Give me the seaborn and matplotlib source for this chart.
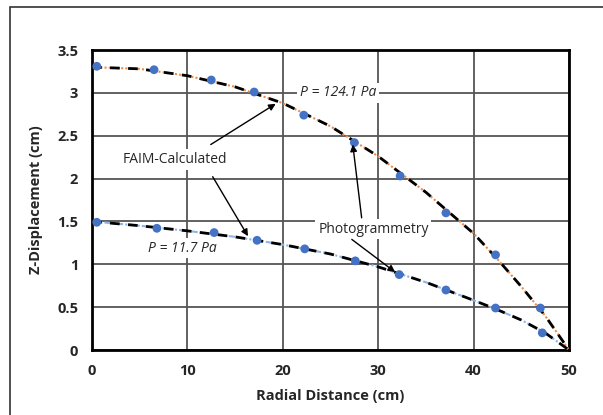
import numpy as np
import pandas as pd
import seaborn as sns
import matplotlib.pyplot as plt
from matplotlib.patches import Rectangle

# Photogrammetry points
photo_x_high = [0.5, 6.5, 12.5, 17.0, 22.2, 27.5, 32.3, 37.1, 42.3, 47.0]
photo_y_high = [3.31, 3.27, 3.15, 3.01, 2.74, 2.42, 2.03, 1.60, 1.11, 0.49]
photo_x_low = [0.5, 6.8, 12.8, 17.3, 22.3, 27.6, 32.2, 37.1, 42.3, 47.2]
photo_y_low = [1.49, 1.42, 1.37, 1.28, 1.18, 1.04, 0.88, 0.70, 0.49, 0.20]

# FAIM-calculated curves
faim_x = [0, 5, 10, 15, 20, 25, 30, 35, 40, 42.5, 45, 47.5, 50]
faim_y_high = [3.30, 3.28, 3.20, 3.07, 2.88, 2.61, 2.26, 1.84, 1.36, 1.06, 0.74, 0.40, 0.0]
faim_y_low = [1.50, 1.45, 1.39, 1.32, 1.23, 1.12, 0.97, 0.79, 0.58, 0.47, 0.35, 0.20, 0.0]

sns.set_theme(style="white")
plt.rcParams['font.family'] = ['Open Sans', 'DejaVu Sans']

fig = plt.figure(figsize=(6.03, 4.15), dpi=100)
ax = fig.add_axes([0.1526, 0.1566, 0.791, 0.7229])

# outer chart frame
fig.patches.append(Rectangle((10 / 603, -0.1), 1.2, 1 - 7 / 415 + 0.1,
                             transform=fig.transFigure, fill=False,
                             edgecolor='#333333', linewidth=1.2))

faim = pd.DataFrame({'x': faim_x, 'high': faim_y_high, 'low': faim_y_low})

sns.lineplot(data=faim, x='x', y='high', ax=ax, color='#f08a4b', linewidth=1.5,
             linestyle=(0, (1, 1)), zorder=3)
sns.lineplot(data=faim, x='x', y='high', ax=ax, color='black', linewidth=2.0,
             linestyle=(0, (3.5, 3)), zorder=4)
sns.lineplot(data=faim, x='x', y='low', ax=ax, color='#8db4e2', linewidth=1.5,
             linestyle=(0, (3, 1, 1, 1)), zorder=3)
sns.lineplot(data=faim, x='x', y='low', ax=ax, color='black', linewidth=2.0,
             linestyle=(0, (3.5, 3)), zorder=4)

sns.scatterplot(x=photo_x_high, y=photo_y_high, ax=ax, color='#4472c4', s=40,
                edgecolor='none', zorder=5)
sns.scatterplot(x=photo_x_low, y=photo_y_low, ax=ax, color='#4472c4', s=40,
                edgecolor='none', zorder=5)

ax.set_xlim(0, 50)
ax.set_ylim(0, 3.5)
ax.set_xticks([0, 10, 20, 30, 40, 50])
ax.set_yticks([0, 0.5, 1, 1.5, 2, 2.5, 3, 3.5])
ax.set_yticklabels(['0', '0.5', '1', '1.5', '2', '2.5', '3', '3.5'])
ax.grid(True, color='#555555', linewidth=1.3)
ax.set_axisbelow(True)
for s in ax.spines.values():
    s.set_color('black')
    s.set_linewidth(2)
ax.tick_params(axis='both', labelsize=10.5, length=0, pad=10)
for lbl in ax.get_xticklabels() + ax.get_yticklabels():
    lbl.set_fontweight('bold')
ax.set_xlabel('Radial Distance (cm)', fontsize=10.5, fontweight='bold', labelpad=8)
ax.set_ylabel('Z-Displacement (cm)', fontsize=10.5, fontweight='bold', labelpad=10)

box = dict(facecolor='white', edgecolor='none', pad=2)
ax.text(25.8, 3.0, 'P = 124.1 Pa', fontsize=10, style='italic', ha='center',
        va='center', bbox=box, zorder=6)
ax.text(9.5, 1.19, 'P = 11.7 Pa', fontsize=10, style='italic', ha='center',
        va='center', bbox=box, zorder=6)
ax.text(8.7, 2.22, 'FAIM-Calculated', fontsize=10, ha='center', va='center',
        bbox=box, zorder=6)
ax.text(29.5, 1.41, 'Photogrammetry', fontsize=10, ha='center', va='center',
        bbox=box, zorder=6)

arrow = dict(arrowstyle='-|>', color='black', lw=1, mutation_scale=10)
ax.annotate('', xy=(19.5, 2.89), xytext=(12.2, 2.38), arrowprops=arrow, zorder=6)
ax.annotate('', xy=(16.5, 1.30), xytext=(12.5, 2.05), arrowprops=arrow, zorder=6)
ax.annotate('', xy=(27.3, 2.43), xytext=(28.3, 1.51), arrowprops=arrow, zorder=6)
ax.annotate('', xy=(32.0, 0.89), xytext=(27.0, 1.31), arrowprops=arrow, zorder=6)

fig.savefig('out.png', dpi=100)
